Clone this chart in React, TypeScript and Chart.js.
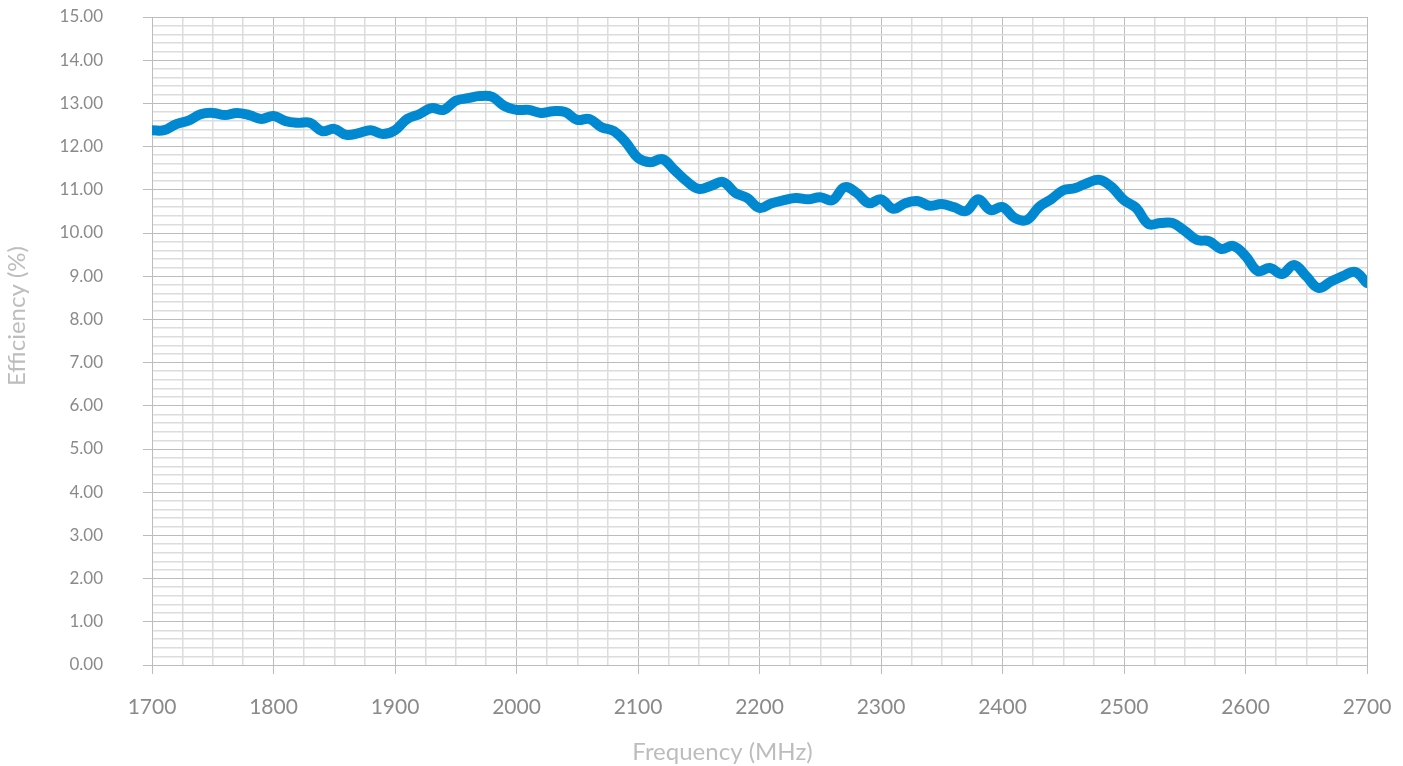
import React, { useEffect, useRef } from "react";
import { Chart, registerables } from "chart.js";

Chart.register(...registerables);

const FREQUENCIES: number[] = [
  1700, 1710, 1720, 1730, 1740, 1750, 1760, 1770, 1780, 1790,
  1800, 1810, 1820, 1830, 1840, 1850, 1860, 1870, 1880, 1890,
  1900, 1910, 1920, 1930, 1940, 1950, 1960, 1970, 1980, 1990,
  2000, 2010, 2020, 2030, 2040, 2050, 2060, 2070, 2080, 2090,
  2100, 2110, 2120, 2130, 2140, 2150, 2160, 2170, 2180, 2190,
  2200, 2210, 2220, 2230, 2240, 2250, 2260, 2270, 2280, 2290,
  2300, 2310, 2320, 2330, 2340, 2350, 2360, 2370, 2380, 2390,
  2400, 2410, 2420, 2430, 2440, 2450, 2460, 2470, 2480, 2490,
  2500, 2510, 2520, 2530, 2540, 2550, 2560, 2570, 2580, 2590,
  2600, 2610, 2620, 2630, 2640, 2650, 2660, 2670, 2680, 2690,
  2700,
];

const EFFICIENCY: number[] = [
  12.38, 12.38, 12.52, 12.6, 12.75, 12.78, 12.73, 12.78, 12.73, 12.64,
  12.71, 12.59, 12.55, 12.55, 12.36, 12.41, 12.27, 12.31, 12.38, 12.29,
  12.38, 12.64, 12.75, 12.89, 12.85, 13.06, 13.12, 13.17, 13.15, 12.94,
  12.85, 12.85, 12.78, 12.82, 12.8, 12.62, 12.64, 12.45, 12.36, 12.1,
  11.74, 11.64, 11.71, 11.46, 11.2, 11.02, 11.09, 11.18, 10.93, 10.81,
  10.58, 10.69, 10.76, 10.81, 10.78, 10.83, 10.76, 11.06, 10.93, 10.69,
  10.78, 10.56, 10.69, 10.74, 10.63, 10.67, 10.6, 10.51, 10.78, 10.53,
  10.6, 10.35, 10.3, 10.6, 10.78, 10.99, 11.04, 11.16, 11.23, 11.06,
  10.76, 10.58, 10.21, 10.23, 10.23, 10.05, 9.84, 9.81, 9.63, 9.7,
  9.47, 9.12, 9.19, 9.05, 9.26, 9.0, 8.73, 8.87, 9.0, 9.1,
  8.84,
];

const X_MIN = 1700;
const X_MAX = 2700;
const X_MAJOR_STEP = 100;
const X_MINOR_STEP = 25;
const Y_MIN = 0;
const Y_MAX = 15;
const Y_MAJOR_STEP = 1;
const Y_MINOR_STEP = 0.2;

const X_TITLE = "Frequency (MHz)";
const Y_TITLE = "Efficiency (%)";

const LINE_COLOR = "rgb(0, 137, 208)";
const MAJOR_GRID = "#bcbcbc";
const MINOR_GRID = "#dcdcdc";
const TICK_TEXT = "#8a8a8a";
const TITLE_TEXT = "#bdbdbd";
const FONT_FAMILY = "Lato, 'Open Sans', sans-serif";

const isMultiple = (v: number, step: number) => {
  const r = v / step;
  return Math.abs(r - Math.round(r)) < 1e-6;
};

const axisTitles = {
  id: "axisTitles",
  afterDraw(chart: any) {
    const { ctx, chartArea } = chart;
    ctx.save();
    ctx.fillStyle = TITLE_TEXT;
    ctx.font = `24px ${FONT_FAMILY}`;
    ctx.textAlign = "center";
    ctx.textBaseline = "middle";
    const cx = (chartArea.left + chartArea.right) / 2 - 37;
    ctx.fillText(X_TITLE, cx, chart.height - 14);
    const cy = (chartArea.top + chartArea.bottom) / 2 - 25;
    ctx.translate(17, cy);
    ctx.rotate(-Math.PI / 2);
    ctx.fillText(Y_TITLE, 0, 0);
    ctx.restore();
  },
};

export default function App() {
  const canvasRef = useRef<HTMLCanvasElement | null>(null);

  useEffect(() => {
    document.body.style.margin = "0";
    const canvas = canvasRef.current;
    if (!canvas) return;
    const points = FREQUENCIES.map((f, i) => ({ x: f, y: EFFICIENCY[i] }));
    const chart = new Chart(canvas, {
      type: "line",
      data: {
        datasets: [
          {
            data: points,
            borderColor: LINE_COLOR,
            borderWidth: 10,
            pointRadius: 0,
            tension: 0.4,
            fill: false,
            borderCapStyle: "round",
            borderJoinStyle: "round",
          },
        ],
      },
      options: {
        responsive: false,
        animation: false,
        layout: { autoPadding: false, padding: { top: 17, right: 36, left: 0, bottom: 0 } },
        plugins: { legend: { display: false }, tooltip: { enabled: false }, title: { display: false } },
        scales: {
          x: {
            type: "linear",
            min: X_MIN,
            max: X_MAX,
            afterFit: (scale: any) => {
              scale.height = 101;
              scale.paddingLeft = 0;
              scale.paddingRight = 0;
            },
            ticks: {
              stepSize: X_MINOR_STEP,
              autoSkip: false,
              maxRotation: 0,
              padding: 21,
              color: TICK_TEXT,
              font: { family: FONT_FAMILY, size: 21 },
              callback: (v: any) => (isMultiple(Number(v), X_MAJOR_STEP) ? String(v) : ""),
            },
            grid: {
              color: (c: any) => (c.tick && isMultiple(c.tick.value, X_MAJOR_STEP) ? MAJOR_GRID : MINOR_GRID),
              lineWidth: (c: any) => (c.tick && isMultiple(c.tick.value, X_MAJOR_STEP) ? 1 : 1.5),
              tickColor: (c: any) => (c.tick && isMultiple(c.tick.value, X_MAJOR_STEP) ? MAJOR_GRID : "rgba(0,0,0,0)"),
              tickLength: 9,
            },
            border: { color: MAJOR_GRID, width: 1 },
          },
          y: {
            type: "linear",
            min: Y_MIN,
            max: Y_MAX,
            afterFit: (scale: any) => {
              scale.width = 152;
              scale.paddingTop = 0;
              scale.paddingBottom = 0;
            },
            ticks: {
              stepSize: Y_MINOR_STEP,
              autoSkip: false,
              padding: 40,
              color: TICK_TEXT,
              font: { family: FONT_FAMILY, size: 17 },
              callback: (v: any) => (isMultiple(Number(v), Y_MAJOR_STEP) ? Number(v).toFixed(2) : ""),
            },
            grid: {
              color: (c: any) => (c.tick && isMultiple(c.tick.value, Y_MAJOR_STEP) ? MAJOR_GRID : MINOR_GRID),
              lineWidth: (c: any) => (c.tick && isMultiple(c.tick.value, Y_MAJOR_STEP) ? 1 : 1.5),
              tickColor: (c: any) => (c.tick && isMultiple(c.tick.value, Y_MAJOR_STEP) ? MAJOR_GRID : "rgba(0,0,0,0)"),
              tickLength: 9,
            },
            border: { color: MAJOR_GRID, width: 1 },
          },
        },
      },
      plugins: [axisTitles],
    });
    return () => chart.destroy();
  }, []);

  return (
    <div style={{ position: "relative", width: 1403, height: 766, background: "#fff" }}>
      <canvas ref={canvasRef} width={1403} height={766} />
    </div>
  );
}
